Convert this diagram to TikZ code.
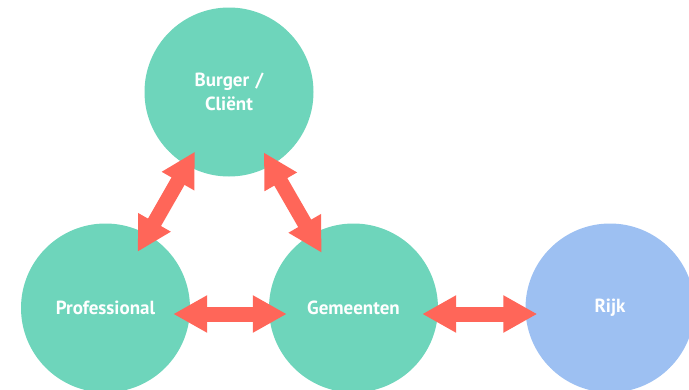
\documentclass[tikz,border=0pt]{standalone}
\usepackage{fontspec}
\setmainfont{PT Sans}
\usetikzlibrary{shapes,arrows.meta}

\definecolor{tealfill}{RGB}{110,213,187}
\definecolor{bluefill}{RGB}{157,192,242}
\definecolor{redarrow}{RGB}{255,102,89}

\begin{document}
\begin{tikzpicture}[x=1pt, y=1pt, node distance = 248pt]
  \tikzstyle{actor} = [circle, fill=tealfill, minimum size=169pt,
    inner sep=0pt, text=white, font=\bfseries\fontsize{19}{24}\selectfont,
    text width=130pt, align=center]
  \tikzstyle{state} = [actor, fill=bluefill]
  \tikzstyle{link} = [draw=redarrow, line width=15pt,
    {Triangle[length=34pt,width=35pt]}-{Triangle[length=34pt,width=35pt]}]

  \useasboundingbox (0,0) rectangle (689,-389);

  % Place nodes
  \node [actor] (burger) at (229,-92) {Burger /\\ Cliënt};
  \node [actor] (prof) at (105.5,-308) {Professional};
  \node [actor, right of=prof] (gem) {Gemeenten};
  \node [state, right of=gem, node distance=256.5pt] (rijk) {Rijk};

  % Draw edges
  \path [link, shorten <=-16pt, shorten >=-20pt] (burger) -- (prof);
  \path [link, shorten <=-15pt, shorten >=-21pt] (burger) -- (gem);
  \path [link, shorten <=-17pt, shorten >=-18pt]
    ([yshift=-6pt]prof.east) -- ([yshift=-6pt]gem.west);
  \path [link, shorten <=-16pt, shorten >=-12pt]
    ([yshift=-6pt]gem.east) -- ([yshift=-6pt]rijk.west);

\end{tikzpicture}
\end{document}
